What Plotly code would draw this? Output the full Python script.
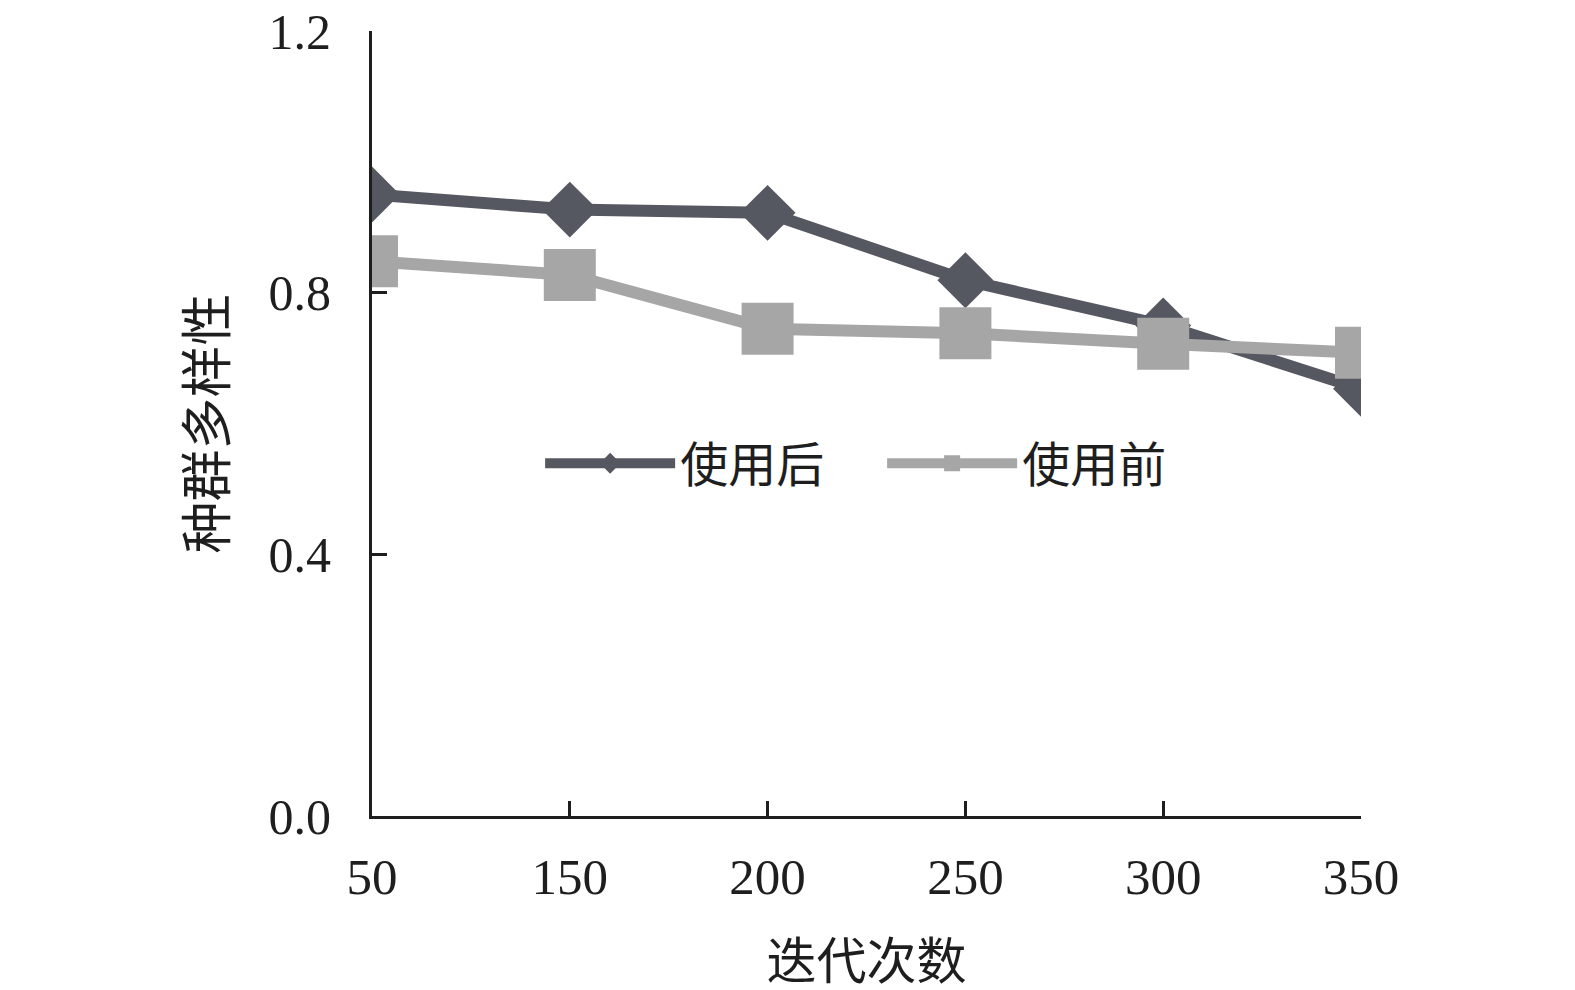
import plotly.graph_objects as go

categories = ["50", "150", "200", "250", "300", "350"]
after_vals = [0.950, 0.927, 0.922, 0.819, 0.750, 0.653]
before_vals = [0.848, 0.827, 0.745, 0.738, 0.722, 0.708]
y_ticks = [0.0, 0.4, 0.8, 1.2]

FONT = "Liberation Serif, Noto Sans CJK SC, serif"
DARK = "#555860"
LIGHT = "#a6a6a6"
TXT = "#1e1e1e"

fig = go.Figure()
fig.add_trace(go.Scatter(
    x=categories, y=after_vals, name="使用后", mode="lines+markers",
    line=dict(color=DARK, width=12),
    marker=dict(symbol="diamond", size=43, color=DARK),
))
fig.add_trace(go.Scatter(
    x=categories, y=before_vals, name="使用前", mode="lines+markers",
    line=dict(color=LIGHT, width=12),
    marker=dict(symbol="square", size=52, color=LIGHT),
))

fig.update_layout(
    width=1575, height=990,
    margin=dict(l=364, r=222, t=23, b=182),
    paper_bgcolor="white", plot_bgcolor="white",
    font=dict(family=FONT, color=TXT),
    showlegend=True,
    legend=dict(
        orientation="h", x=0.17, y=0.449, xanchor="left", yanchor="middle",
        font=dict(size=48, family=FONT, color=TXT),
        itemwidth=130, entrywidth=197, entrywidthmode="pixels",
        bgcolor="rgba(0,0,0,0)",
    ),
    xaxis=dict(
        type="category", range=[0, 5], automargin=False,
        showline=True, linecolor=TXT, linewidth=3,
        ticks="inside", ticklen=15, tickwidth=3, tickcolor=TXT,
        tickfont=dict(size=51, family=FONT, color=TXT),
        showgrid=False, zeroline=False, ticklabeloverflow="allow",
        title=dict(text="迭代次数", font=dict(size=50, family=FONT, color=TXT), standoff=40),
        ticklabelstandoff=14,
    ),
    yaxis=dict(
        range=[0, 1.2], tickvals=y_ticks, tickformat=".1f", automargin=False,
        showline=True, linecolor=TXT, linewidth=3,
        ticks="inside", ticklen=15, tickwidth=3, tickcolor=TXT,
        tickfont=dict(size=50, family=FONT, color=TXT),
        showgrid=False, zeroline=False, ticklabeloverflow="allow",
        title=dict(text="种群多样性", font=dict(size=52, family=FONT, color=TXT), standoff=26),
        ticklabelstandoff=28,
    ),
)

fig.write_html("out.html")
